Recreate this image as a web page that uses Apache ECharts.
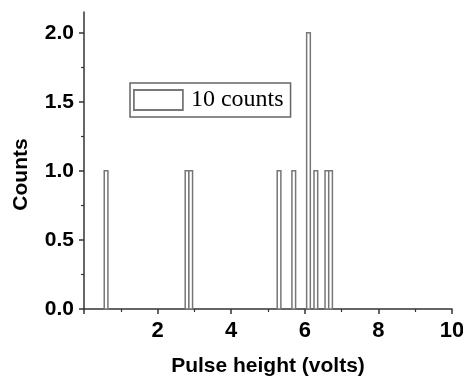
<!DOCTYPE html>
<html>
<head>
<meta charset="utf-8">
<script src="https://cdn.jsdelivr.net/npm/echarts@6/dist/echarts.min.js"></script>
<style>
  html, body { margin: 0; padding: 0; background: #fff; }
  #chart { width: 463px; height: 377px; }
</style>
</head>
<body>
<div id="chart"></div>
<script>
// histogram bins (volts) and their counts
const binCenters = [0.6, 2.8, 2.9, 5.3, 5.7, 6.1, 6.3, 6.6, 6.7];
const counts = [1, 1, 1, 1, 1, 2, 1, 1, 1];
const binWidth = 0.1;
const yMajorTicks = [0, 0.5, 1.0, 1.5, 2.0];
const yMinorTicks = [0.25, 0.75, 1.25, 1.75];
const seriesName = '10 counts';

const chart = echarts.init(document.getElementById('chart'), null, { renderer: 'canvas' });

const axisColor = '#333';
const barStroke = '#777';
const labelFont = { fontFamily: 'Liberation Sans, Arial, sans-serif', fontWeight: 'bold', color: '#000' };

const option = {
  animation: false,
  backgroundColor: '#fff',
  grid: { left: 84, right: 11, top: 12, bottom: 68, outerBoundsMode: 'none', containLabel: false },
  legend: {
    left: 130,
    top: 83,
    orient: 'horizontal',
    padding: [5, 7, 5, 3],
    borderColor: '#666',
    borderWidth: 1.5,
    itemWidth: 49,
    itemHeight: 20,
    data: [{
      name: seriesName,
      icon: 'rect',
      itemStyle: { color: '#fff', borderColor: barStroke, borderWidth: 1.8 }
    }],
    textStyle: { fontFamily: 'Liberation Serif, Times New Roman, serif', fontSize: 24, color: '#000', padding: [0, 0, 0, 3] }
  },
  xAxis: {
    type: 'value',
    min: 0,
    max: 10,
    interval: 2,
    name: 'Pulse height (volts)',
    nameLocation: 'middle',
    nameGap: 47,
    nameTextStyle: Object.assign({ fontSize: 21 }, labelFont),
    axisLine: { lineStyle: { color: axisColor, width: 1.5 } },
    axisTick: { inside: false, length: 5, lineStyle: { color: axisColor, width: 1.5 } },
    minorTick: { show: true, splitNumber: 2, length: 3, lineStyle: { color: axisColor, width: 1.2 } },
    axisLabel: Object.assign({ fontSize: 22, margin: 11, showMinLabel: false }, labelFont),
    splitLine: { show: false }
  },
  yAxis: [{
    type: 'value',
    min: 0,
    max: 2.15,
    interval: 0.5,
    position: 'left',
    name: 'Counts',
    nameLocation: 'middle',
    nameRotate: 90,
    nameGap: 52,
    nameTextStyle: Object.assign({ fontSize: 21, padding: [0, 28, 0, 0] }, labelFont),
    axisLine: { show: true, lineStyle: { color: axisColor, width: 1.5 } },
    axisTick: { show: true, length: 5, customValues: yMajorTicks, lineStyle: { color: axisColor, width: 1.5 } },
    axisLabel: Object.assign({
      fontSize: 21, margin: 10, customValues: yMajorTicks,
      formatter: v => v.toFixed(1)
    }, labelFont),
    splitLine: { show: false }
  }, {
    type: 'value',
    min: 0,
    max: 2.15,
    position: 'left',
    axisLine: { show: false },
    axisTick: { show: true, length: 3, customValues: yMinorTicks, lineStyle: { color: axisColor, width: 1.2 } },
    axisLabel: { show: false },
    splitLine: { show: false }
  }],
  series: [{
    name: seriesName,
    type: 'custom',
    xAxisIndex: 0,
    yAxisIndex: 0,
    itemStyle: { color: '#fff', borderColor: barStroke, borderWidth: 1.5 },
    encode: { x: 0, y: 1 },
    data: binCenters.map((x, i) => [x, counts[i]]),
    renderItem: function (params, api) {
      const x = api.value(0);
      const c = api.value(1);
      const p0 = api.coord([x - binWidth / 2, c]);
      const p1 = api.coord([x + binWidth / 2, 0]);
      return {
        type: 'rect',
        shape: { x: p0[0], y: p0[1], width: p1[0] - p0[0], height: p1[1] - p0[1] },
        style: { fill: '#fff', stroke: barStroke, lineWidth: 1.5 }
      };
    }
  }]
};

chart.setOption(option);
</script>
</body>
</html>
